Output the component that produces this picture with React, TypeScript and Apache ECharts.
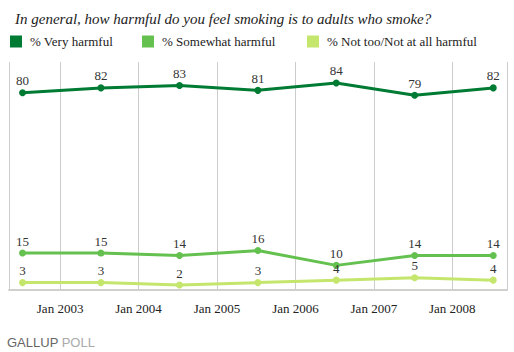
import React, { useEffect, useRef } from "react";
import * as echarts from "echarts";

const dates = ["2002-07-10", "2003-07-10", "2004-07-10", "2005-07-10", "2006-07-10", "2007-07-10", "2008-07-10"];
const veryHarmful = [80, 82, 83, 81, 84, 79, 82];
const somewhatHarmful = [15, 15, 14, 16, 10, 14, 14];
const notHarmful = [3, 3, 2, 3, 4, 5, 4];
const seriesNames = ["% Very harmful", "% Somewhat harmful", "% Not too/Not at all harmful"];
const seriesColors = ["#007b34", "#64c14f", "#c5e66c"];
const titleText = "In general, how harmful do you feel smoking is to adults who smoke?";

const toTs = (s: string) => {
  const [y, m, d] = s.split("-").map(Number);
  return Date.UTC(y, m - 1, d);
};

export default function App() {
  const ref = useRef<HTMLDivElement>(null);
  useEffect(() => {
    if (!ref.current) return;
    const chart = echarts.init(ref.current, undefined, { renderer: "svg" });
    const serif = "serif";
    const all = [veryHarmful, somewhatHarmful, notHarmful];
    const year = 365.25 * 24 * 3600 * 1000;
    const legendLefts = [10, 142, 307];
    chart.setOption({
      animation: false,
      useUTC: true,
      backgroundColor: "#ffffff",
      textStyle: { fontFamily: serif },
      title: {
        text: titleText,
        left: 10,
        top: 6,
        textStyle: { fontFamily: serif, fontStyle: "italic", fontWeight: "normal", fontSize: 15, color: "#222" },
      },
      legend: seriesNames.map((n, i) => ({
        data: [n],
        left: legendLefts[i],
        top: 35,
        icon: "rect",
        itemWidth: 12,
        itemHeight: 12,
        itemGap: 0,
        padding: 0,
        selectedMode: false,
        textStyle: { fontFamily: serif, fontSize: 13, color: "#222", padding: [0, 0, 0, 3] },
      })),
      grid: { left: 9, right: 7, top: 62, bottom: 61, containLabel: false },
      xAxis: {
        type: "time",
        min: Date.UTC(2002, 4, 8),
        max: Date.UTC(2008, 8, 12),
        minInterval: year * 0.99,
        maxInterval: year * 1.01,
        axisLine: { show: true, lineStyle: { color: "#d0d0cc", width: 2 } },
        axisTick: { show: false },
        splitLine: { show: true, lineStyle: { color: "#cccccc", width: 1 } },
        axisLabel: {
          fontFamily: serif,
          fontSize: 13,
          color: "#222",
          margin: 11,
          formatter: (v: number) => {
            const d = new Date(v);
            return d.getUTCMonth() === 0 && d.getUTCDate() === 1 ? "Jan " + d.getUTCFullYear() : "";
          },
        },
      },
      yAxis: { type: "value", min: -0.4, max: 92.5, show: false, splitLine: { show: false } },
      series: all.map((vals, i) => ({
        name: seriesNames[i],
        type: "line",
        data: vals.map((v, j) => [toTs(dates[j]), v]),
        itemStyle: { color: seriesColors[i] },
        lineStyle: { color: seriesColors[i], width: 3 },
        symbol: "circle",
        symbolSize: 7,
        label: { show: true, position: "top", distance: 2, fontFamily: serif, fontSize: 13, color: "#333" },
      })),
      graphic: [
        {
          type: "text",
          left: 7,
          top: 336,
          style: {
            text: "{a|GALLUP} {b|POLL}",
            rich: {
              a: { fontFamily: "Liberation Sans", fontSize: 13, fill: "#666" },
              b: { fontFamily: "Liberation Sans", fontSize: 13, fill: "#aaa" },
            },
          },
        },
      ],
    });
    return () => chart.dispose();
  }, []);
  return <div ref={ref} style={{ position: "absolute", left: 0, top: 0, width: 514, height: 352 }} />;
}
